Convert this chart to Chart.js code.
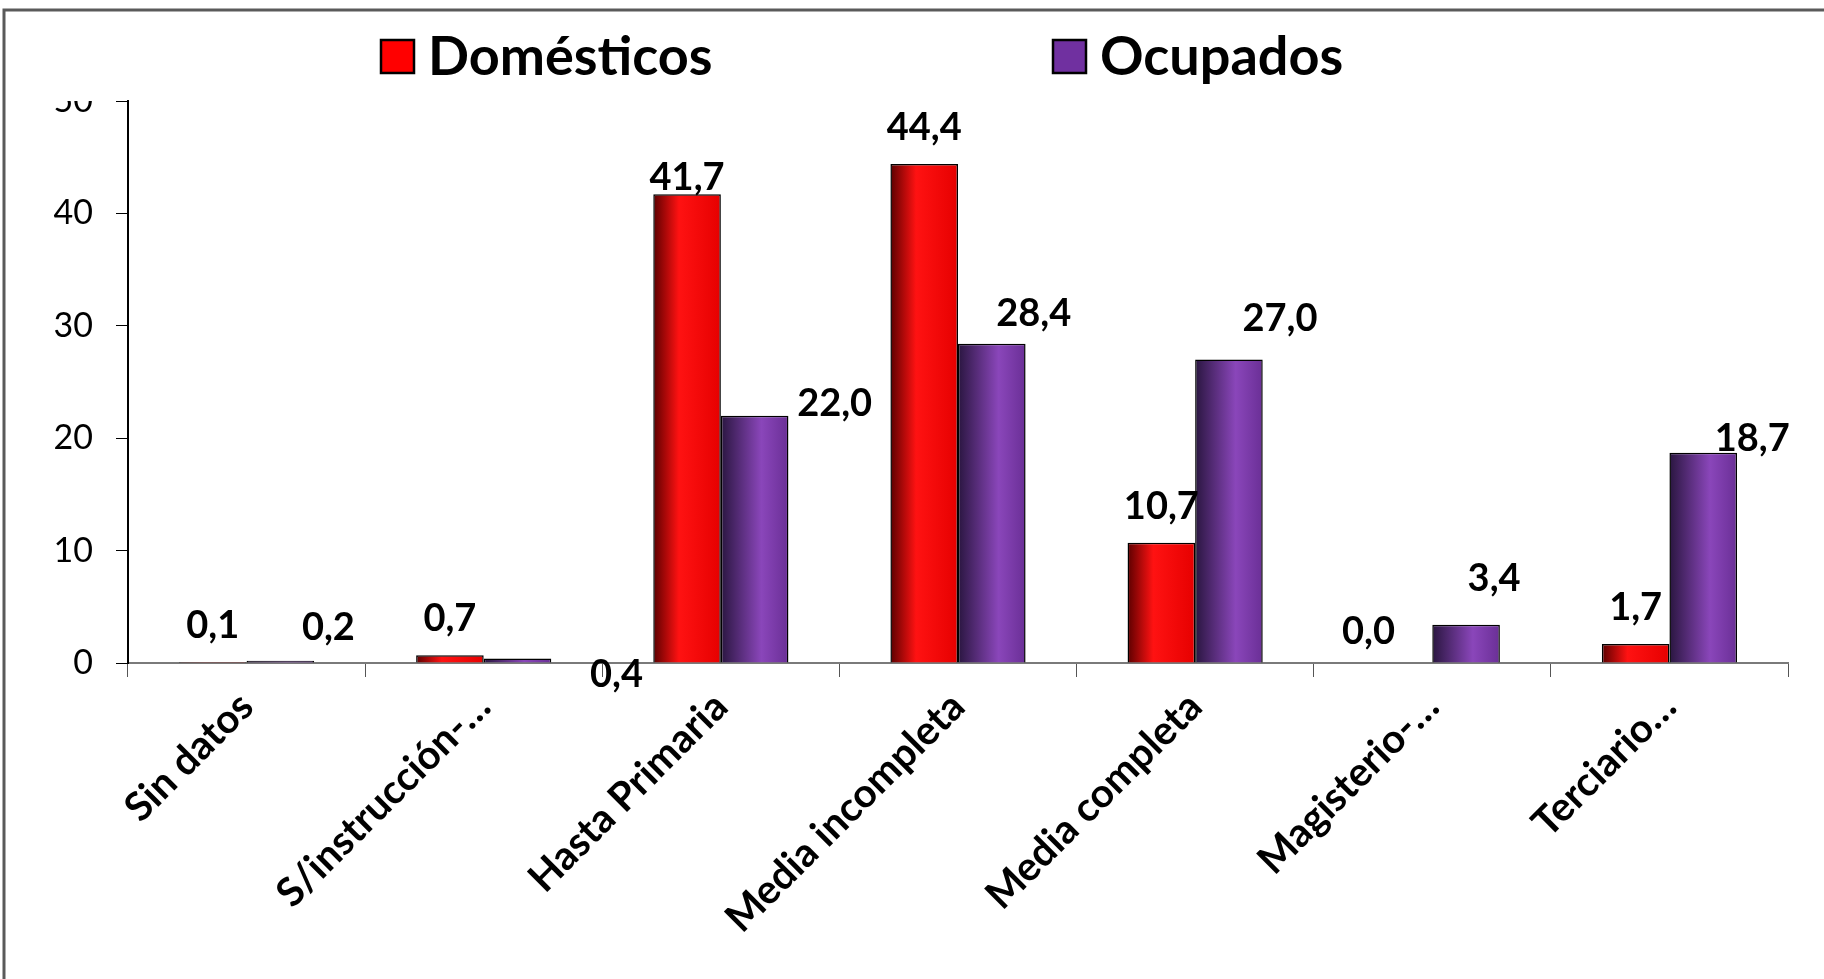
<!DOCTYPE html>
<html lang="es">
<head>
<meta charset="utf-8">
<title>Nivel educativo</title>
<script src="https://cdn.jsdelivr.net/npm/chart.js@4.4.1/dist/chart.umd.min.js"></script>
<style>
    html, body { margin: 0; padding: 0; background: #fff; }
    #wrap { position: relative; width: 1824px; height: 979px; }
</style>
</head>
<body>
<div id="wrap"><canvas id="grafico"></canvas></div>
<script>
// ---- datos ----
const categorias = ['Sin datos', 'S/instrucción-…', 'Hasta Primaria', 'Media incompleta', 'Media completa', 'Magisterio-…', 'Terciario…'];
const domesticos = [0.1, 0.7, 41.7, 44.4, 10.7, 0.0, 1.7];
const ocupados = [0.2, 0.4, 22.0, 28.4, 27.0, 3.4, 18.7];
const series = ['Domésticos', 'Ocupados'];
const ticksY = [0, 10, 20, 30, 40, 50];

// desplazamiento manual de las etiquetas (px), como en el original
const ajusteDom = [[0, 0], [0, 0], [0, 19], [0, 0], [0, 0], [-30, 5], [0, 0]];
const ajusteOcu = [[48, 3], [99, 52], [80, 24], [42, 6], [51, -5], [28, -10], [49, 22]];

const FUENTE = "Lato, 'Open Sans', sans-serif";
const ANCHO_GRUPO = 0.57;

// relleno degradado tipo Excel para cada barra
function degradado(ctx, paradas) {
    const chart = ctx.chart;
    if (!chart.chartArea || ctx.dataIndex === undefined) return paradas[1][1];
    const x = chart.scales.x;
    const centro = x.getPixelForValue(ctx.dataIndex);
    const bw = (x.width / categorias.length) * ANCHO_GRUPO / 2;
    const izq = ctx.datasetIndex === 0 ? centro - bw : centro;
    const g = chart.ctx.createLinearGradient(izq, 0, izq + bw, 0);
    paradas.forEach(p => g.addColorStop(p[0], p[1]));
    return g;
}
const rojo = [[0, '#5c0000'], [0.38, '#ff1212'], [1, '#e60000']];
const violeta = [[0, '#2a1640'], [0.6, '#8a46ba'], [1, '#6a2f96']];
const colorLeyenda = ['#ff0000', '#7030a0'];

// etiquetas de valor
const etiquetas = {
    id: 'etiquetas',
    afterDatasetsDraw(chart) {
        const c = chart.ctx;
        c.save();
        c.font = 'bold 38px ' + FUENTE;
        c.fillStyle = '#000';
        c.textAlign = 'center';
        c.textBaseline = 'middle';
        chart.data.datasets.forEach((ds, i) => {
            const ajuste = i === 0 ? ajusteDom : ajusteOcu;
            chart.getDatasetMeta(i).data.forEach((bar, j) => {
                const txt = ds.data[j].toFixed(1).replace('.', ',');
                c.fillText(txt, bar.x + ajuste[j][0], bar.y - 36 + ajuste[j][1]);
            });
        });
        c.restore();
    }
};

// leyenda y marco
const leyenda = {
    id: 'leyenda',
    afterDraw(chart) {
        const c = chart.ctx;
        c.save();
        // el "50" queda cortado en el original
        c.fillStyle = '#fff';
        c.fillRect(0, 0, chart.chartArea.left - 14, chart.chartArea.top);
        // marco
        c.strokeStyle = '#5a5a5a';
        c.lineWidth = 3;
        c.beginPath();
        c.moveTo(4, 979);
        c.lineTo(4, 10);
        c.lineTo(1824, 10);
        c.stroke();
        // leyenda
        const xs = [381, 1053];
        c.font = 'bold 54px ' + FUENTE;
        c.textBaseline = 'middle';
        series.forEach((s, i) => {
            c.fillStyle = colorLeyenda[i];
            c.fillRect(xs[i], 40, 33, 33);
            c.lineWidth = 2.5;
            c.strokeStyle = '#000';
            c.strokeRect(xs[i], 40, 33, 33);
            c.fillStyle = '#000';
            c.fillText(s, xs[i] + 47, 58);
        });
        c.restore();
    }
};

new Chart(document.getElementById('grafico'), {
    type: 'bar',
    data: {
        labels: categorias,
        datasets: [{
            label: series[0],
            data: domesticos,
            backgroundColor: ctx => degradado(ctx, rojo),
            borderColor: '#000',
            borderWidth: 1.5,
            borderSkipped: 'bottom'
        }, {
            label: series[1],
            data: ocupados,
            backgroundColor: ctx => degradado(ctx, violeta),
            borderColor: '#000',
            borderWidth: 1.5,
            borderSkipped: 'bottom'
        }]
    },
    options: {
        responsive: true,
        maintainAspectRatio: false,
        animation: false,
        datasets: {
            bar: { barPercentage: 1, categoryPercentage: ANCHO_GRUPO }
        },
        layout: { padding: { top: 101, right: 36, left: 0, bottom: 0 } },
        plugins: {
            legend: { display: false },
            tooltip: { enabled: false }
        },
        scales: {
            x: {
                afterFit: scale => { scale.height = 316; },
                border: { display: true, color: '#7a7a7a', width: 2 },
                grid: {
                    offset: true,
                    drawOnChartArea: false,
                    drawTicks: true,
                    tickLength: 14,
                    color: '#555'
                },
                ticks: {
                    autoSkip: false,
                    maxRotation: 45,
                    minRotation: 45,
                    padding: 6,
                    color: '#000',
                    font: { family: FUENTE, size: 40, weight: 'bold' }
                }
            },
            y: {
                min: 0,
                max: 50,
                afterFit: scale => { scale.width = 128; },
                afterBuildTicks: scale => {
                    scale.ticks = ticksY.map(v => ({ value: v }));
                },
                border: { display: true, color: '#000', width: 2 },
                grid: {
                    drawOnChartArea: false,
                    drawTicks: true,
                    tickLength: 12,
                    color: '#000'
                },
                ticks: {
                    padding: 23,
                    color: '#000',
                    font: { family: FUENTE, size: 34 }
                }
            }
        }
    },
    plugins: [etiquetas, leyenda]
});
</script>
</body>
</html>
